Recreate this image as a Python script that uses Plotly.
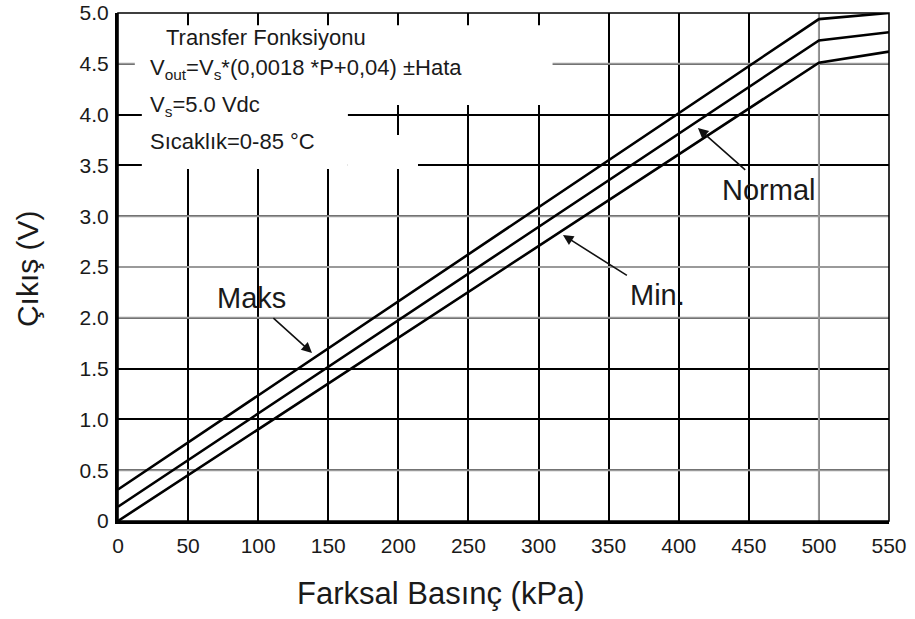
import plotly.graph_objects as go

# Data
pressure = [0, 500, 550]
maks = [0.31, 4.94, 5.00]
normal = [0.14, 4.73, 4.81]
minimum = [0.0, 4.51, 4.62]

x_ticks = [0, 50, 100, 150, 200, 250, 300, 350, 400, 450, 500, 550]
y_ticks = [0, 0.5, 1.0, 1.5, 2.0, 2.5, 3.0, 3.5, 4.0, 4.5, 5.0]
y_tick_text = ["0", "0.5", "1.0", "1.5", "2.0", "2.5", "3.0", "3.5", "4.0", "4.5", "5.0"]
gray_y = [0.5, 2.0, 2.5, 3.0, 4.5]
gray_x = [500]

FONT = "Liberation Sans, Arial, sans-serif"
TXT = "#1a1a1a"

fig = go.Figure()
for name, vals in [("Maks", maks), ("Normal", normal), ("Min.", minimum)]:
    fig.add_trace(go.Scatter(x=pressure, y=vals, mode="lines", name=name,
                             line=dict(color="black", width=2.6), showlegend=False))

shapes = []
for gy in gray_y:
    shapes.append(dict(type="line", xref="x", yref="y", x0=0, x1=550, y0=gy, y1=gy,
                       line=dict(color="#9a9a9a", width=2), layer="between"))
for gx in gray_x:
    shapes.append(dict(type="line", xref="x", yref="y", x0=gx, x1=gx, y0=0, y1=5,
                       line=dict(color="#9a9a9a", width=2), layer="between"))
# white areas behind the transfer-function text
for x0, x1, y0, y1 in [(12, 310, 4.094, 4.88), (17, 164, 3.465, 4.094), (164, 214, 3.465, 3.80)]:
    shapes.append(dict(type="rect", xref="x", yref="y", x0=x0, x1=x1, y0=y0, y1=y1,
                       fillcolor="white", line=dict(width=0), layer="between"))
# top and right border
shapes.append(dict(type="rect", xref="paper", yref="paper", x0=0, x1=1, y0=0, y1=1,
                   line=dict(color="black", width=1.6), layer="above"))

info_lines = [
    (33.0, 4.754, "Transfer Fonksiyonu"),
    (21.5, 4.449, "V<sub>out</sub>=V<sub>s</sub>*(0,0018 *P+0,04) ±Hata"),
    (21.5, 4.085, "V<sub>s</sub>=5.0 Vdc"),
    (21.5, 3.740, "Sıcaklık=0-85 °C"),
]
anns = []
for x, y, t in info_lines:
    anns.append(dict(x=x, y=y, xref="x", yref="y", text=t, showarrow=False,
                     xanchor="left", yanchor="middle", font=dict(family=FONT, size=22, color=TXT)))

# (label, label x, label y, arrow head x, arrow head y)
labels = [
    ("Maks", 94.9, 2.195, 138.4, 1.654),
    ("Min.", 385.2, 2.224, 317.4, 2.815),
    ("Normal", 463.7, 3.258, 413.7, 3.868),
]
for txt, lx, ly, hx, hy in labels:
    anns.append(dict(x=hx, y=hy, ax=lx, ay=ly, xref="x", yref="y", axref="x", ayref="y",
                     text=txt, showarrow=True, arrowhead=2, arrowsize=1.3, arrowwidth=1.6,
                     arrowcolor="#111", startstandoff=4,
                     font=dict(family=FONT, size=29, color=TXT)))

# axis titles
anns.append(dict(x=0.419, y=-0.1437, xref="paper", yref="paper", text="Farksal Basınç (kPa)",
                 showarrow=False, xanchor="center", yanchor="middle",
                 font=dict(family=FONT, size=31, color=TXT)))
anns.append(dict(x=-0.118, y=0.496, xref="paper", yref="paper", text="Çıkış (V)",
                 showarrow=False, xanchor="center", yanchor="middle", textangle=-90,
                 font=dict(family=FONT, size=30, color=TXT)))

fig.update_layout(
    width=915, height=619,
    margin=dict(l=118, r=26, t=13, b=98),
    paper_bgcolor="white", plot_bgcolor="white",
    shapes=shapes, annotations=anns,
    font=dict(family=FONT, color=TXT),
)
fig.update_xaxes(range=[0, 550], tickvals=x_ticks, ticktext=[str(v) for v in x_ticks],
                 showgrid=True, gridcolor="black", gridwidth=1.5,
                 showline=True, linecolor="black", linewidth=3,
                 ticks="", tickfont=dict(size=21, color=TXT), ticklabelstandoff=4,
                 zeroline=False, automargin=False)
fig.update_yaxes(range=[0, 5], tickvals=y_ticks, ticktext=y_tick_text,
                 showgrid=True, gridcolor="black", gridwidth=1.5,
                 showline=True, linecolor="black", linewidth=3,
                 ticks="", tickfont=dict(size=21, color=TXT), ticklabelstandoff=2,
                 zeroline=False, automargin=False)

fig.write_html("out.html")
